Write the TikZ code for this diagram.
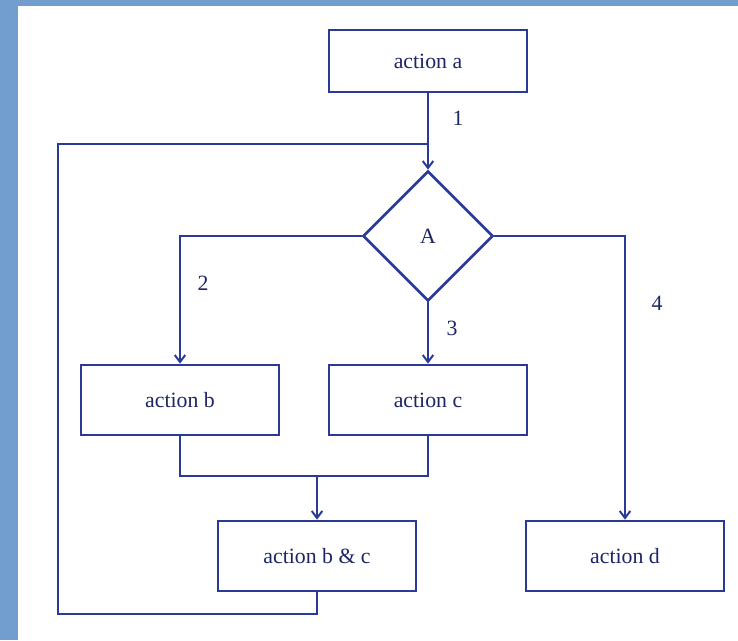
\documentclass[tikz,border=0pt]{standalone}
\usepackage{fontspec}
\setmainfont{Liberation Serif}
\usetikzlibrary{arrows.meta, positioning, shapes.geometric, calc}
\definecolor{flownavy}{HTML}{2A3A98}
\definecolor{flowtext}{HTML}{1E2566}
\definecolor{flowframe}{HTML}{729ECF}

\begin{document}
\begin{tikzpicture}[x=0.025cm, y=-0.025cm,
    action/.style={draw=flownavy, line width=1.9pt, fill=white, text=flowtext,
                   minimum width=4.95cm, minimum height=1.75cm, inner sep=2pt,
                   font=\fontsize{15.5}{18}\selectfont},
    decision/.style={diamond, draw=flownavy, line width=1.9pt, text=flowtext,
                     minimum width=3.25cm, minimum height=3.25cm, inner sep=0pt,
                     font=\fontsize{15.5}{18}\selectfont},
    conn/.style={-{Straight Barb[length=5pt, width=7.5pt, line width=1.4pt]},
                 draw=flownavy, line width=1pt},
    line/.style={draw=flownavy, line width=1pt},
    num/.style={text=flowtext, font=\fontsize{15.5}{18}\selectfont},
]
    % frame
    \useasboundingbox (0,0) rectangle (738,640);
    \fill[flowframe] (0,0) rectangle (738,640);
    \fill[white] (18,6) rectangle (738,640);

    % === nodes ===
    \node[action, minimum height=1.55cm] (a) at (428,61) {action a};
    \node[decision] (A) at (428,236) {A};
    \node[action] (b) at (180,400) {action b};
    \node[action] (c) at (428,400) {action c};
    \node[action] (bc) at (317,556) {action b \& c};
    \node[action] (d) at (625,556) {action d};

    \coordinate (loopbot) at (58,614);
    \coordinate (looptop) at (58,144);
    \coordinate (merge) at (317,476);

    % === connectors ===
    \draw[conn] (a) -- (A);
    \draw[conn] (A.west) -| (b.north);
    \draw[conn] (A.south) -- (c.north);
    \draw[conn] (A.east) -| (d.north);
    \draw[line] (b.south) |- (c.south |- merge) -- (c.south);
    \draw[conn] (merge) -- (bc.north);
    \draw[line] (bc.south) |- (loopbot) -- (looptop) -- (looptop -| A.north);

    % === branch numbers ===
    \node[num] (n1) at (458,118) {1};
    \node[num] (n2) at (203,283) {2};
    \node[num] (n3) at (452,328) {3};
    \node[num] (n4) at (657,303) {4};
\end{tikzpicture}
\end{document}
